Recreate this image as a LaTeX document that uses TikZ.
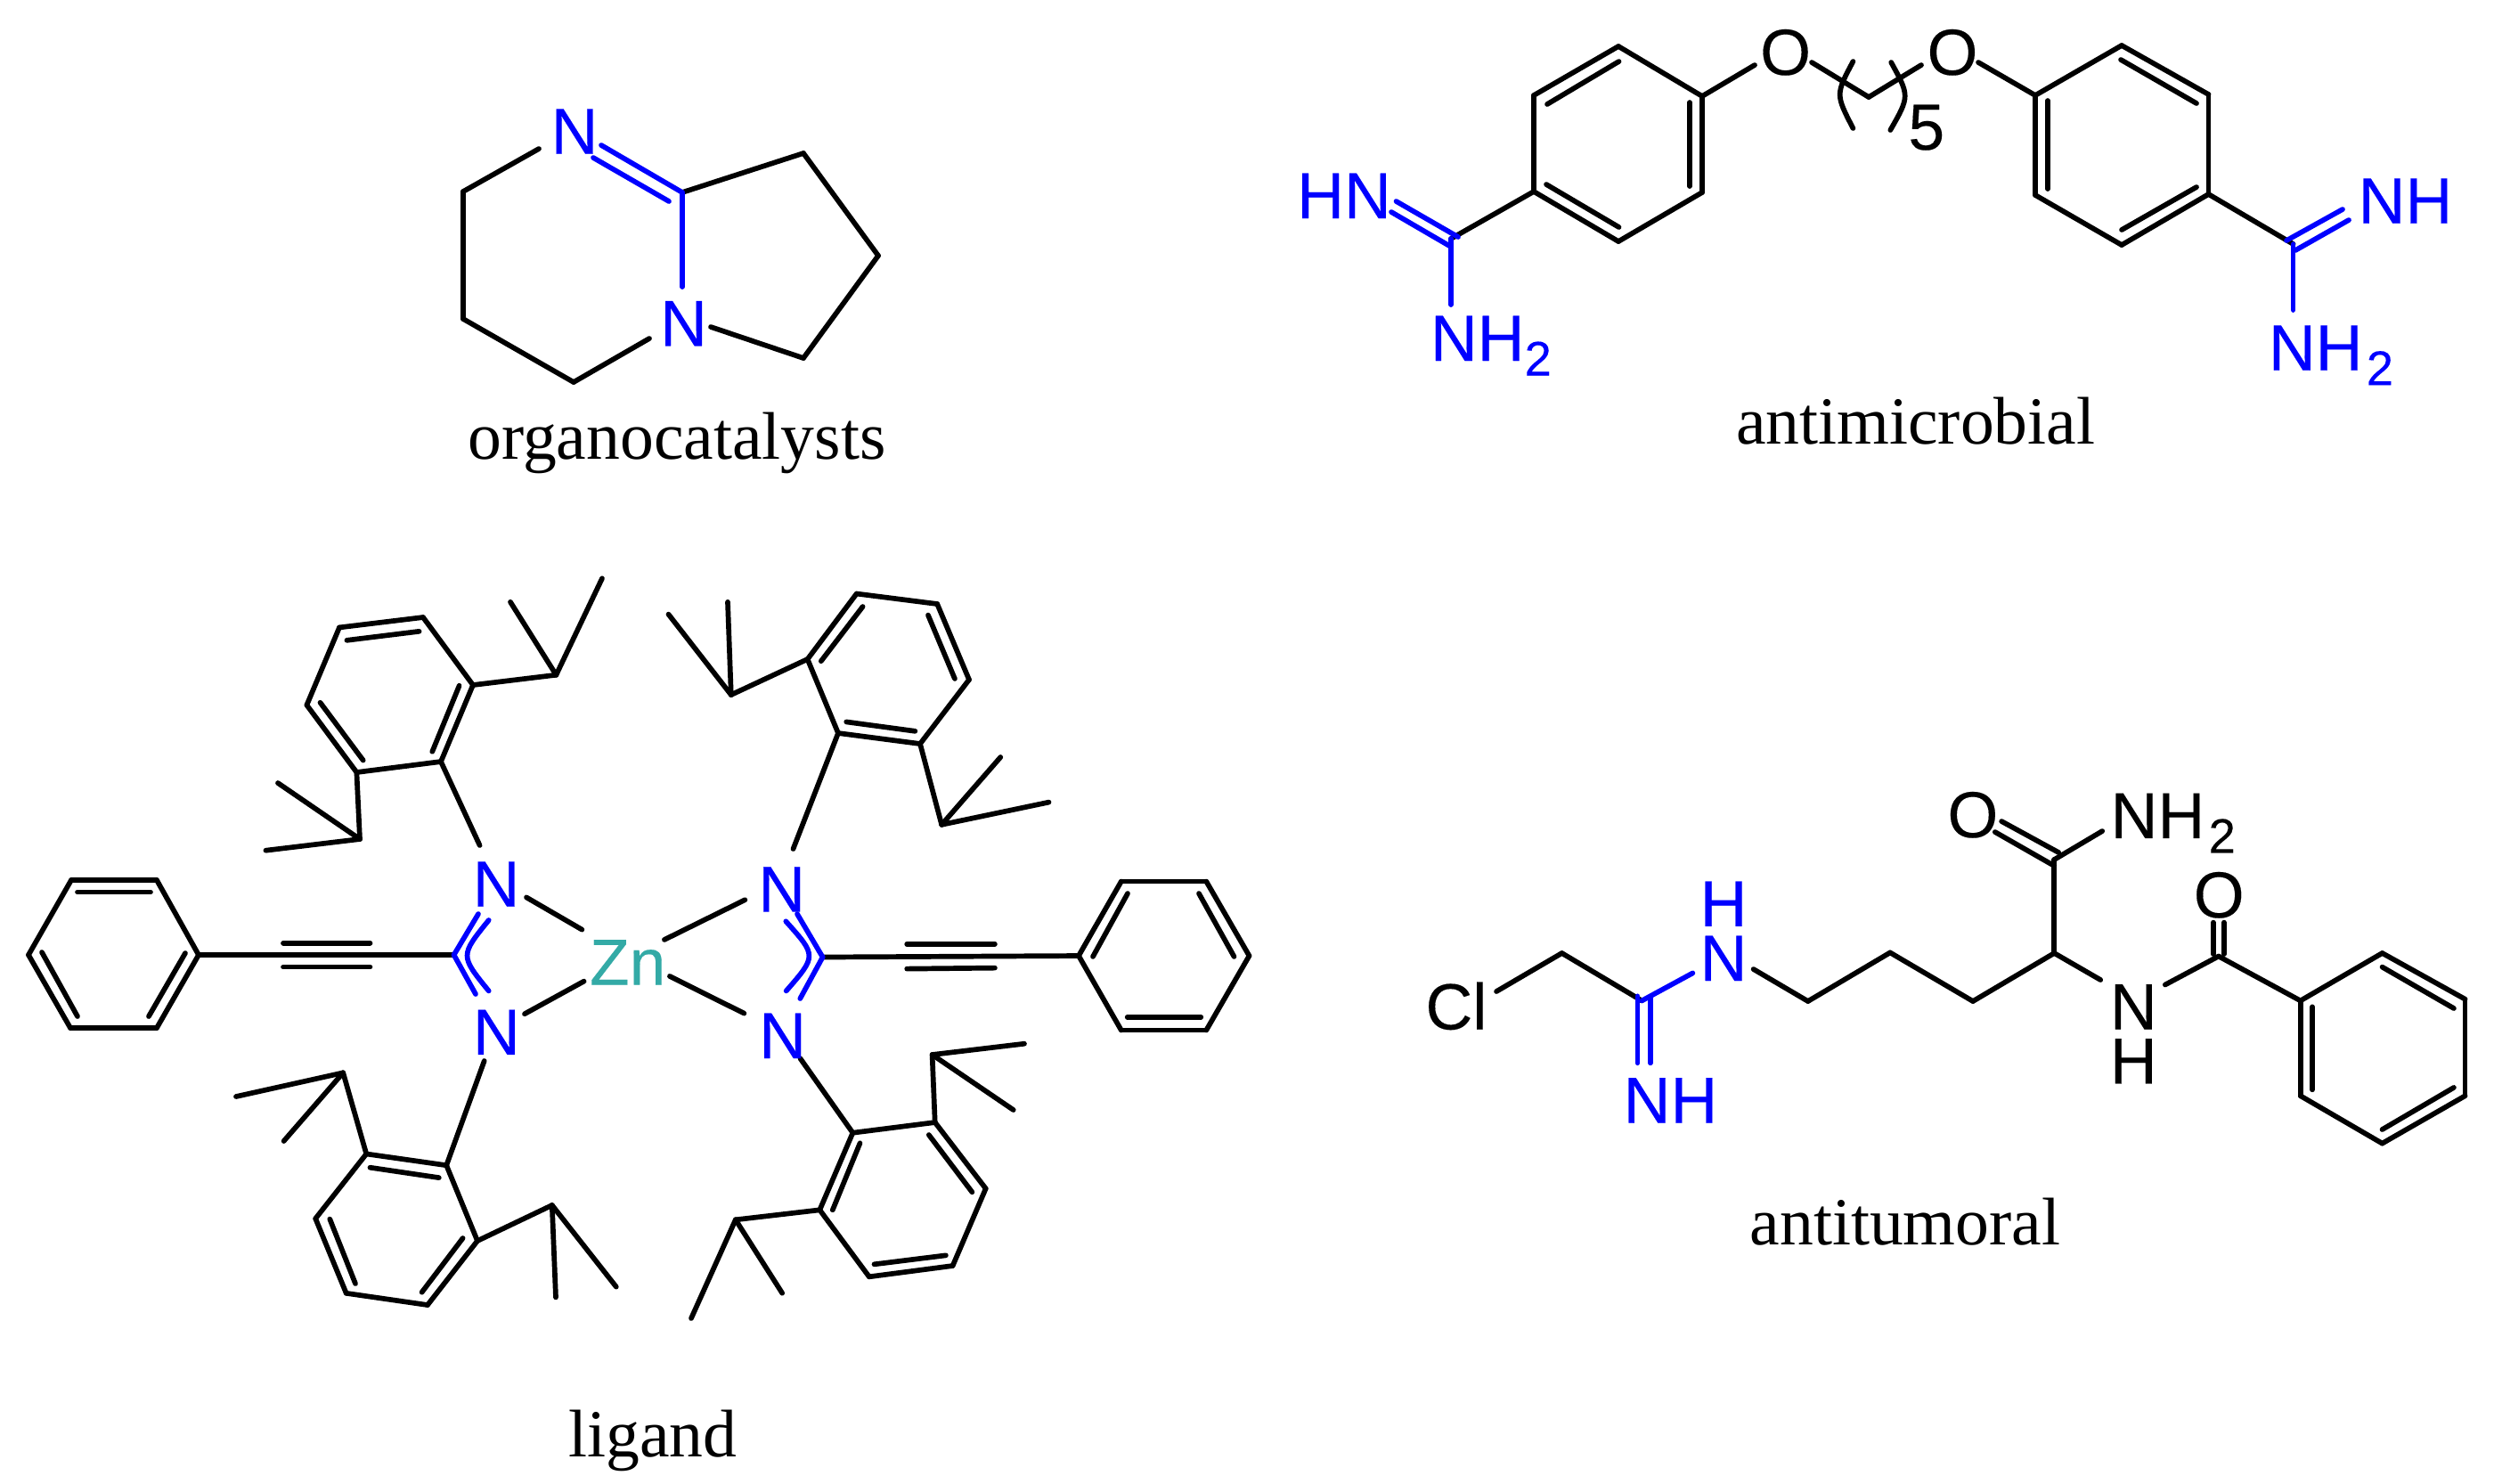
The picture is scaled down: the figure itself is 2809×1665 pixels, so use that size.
\documentclass[tikz,border=0pt]{standalone}
\usepackage{fontspec}
\setmainfont{Liberation Serif}
\newfontfamily\atomfont[FakeBold=0.2]{Liberation Sans}
\definecolor{atomblue}{HTML}{0000FF}
\definecolor{zinc}{HTML}{33AAA6}
\newcommand{\subtwo}{\raisebox{-4.7pt}{\fontsize{15.5}{15.5}\selectfont 2}}
\newcommand{\pts}[1]{\foreach \n/\x/\y in {#1} \coordinate (\n) at (\x,\y);}
\newcommand{\bonds}[2][bond]{\foreach \a/\b in {#2} \draw[#1] (\a)--(\b);}
\tikzset{
  bond/.style={line width=0.057cm,line cap=round,line join=round,black},
  bbond/.style={bond,atomblue},
  atom/.style={font=\atomfont\fontsize{20.8}{20.8}\selectfont,inner sep=0pt,anchor=base},
  atomw/.style={atom,anchor=base west},
  bluetext/.style={text=atomblue},
  caption/.style={font=\fontsize{21.5}{21.5}\selectfont,inner sep=0pt,anchor=base}
}
\begin{document}
\begin{tikzpicture}[x=0.01cm,y=-0.01cm]
\useasboundingbox (0,0) rectangle (2809,1665);
\fill[white] (0,0) rectangle (2809,1665);
% ---------- organocatalyst
\pts{o1/605/167,o2/520/215,o3/520/358,o4/644/429,o5/729/380,oc/766/216,oe/766/322,
  od1/675/163,od2/666/177,od3/751/226,o6/902/172,o7/986/287,o8/902/402,o9/798/367}
\bonds{o1/o2,o2/o3,o3/o4,o4/o5,oc/o6,o6/o7,o7/o8,o8/o9}
\bonds[bbond]{oc/oe,od1/oc,od2/od3}
\node[atom,bluetext] (oN1) at (645,172.7) {N};
\node[atom,bluetext] (oN2) at (767.5,388.3) {N};
\node[caption] (capO) at (760,515) {organocatalysts};
% ---------- antimicrobial
\pts{ma/1817/52,mb/1911/108,mc/1911/216,md/1817/271,me/1722/215,mf/1722/107,
  mi1/1737/117,mi2/1817.5/69,mi3/1897/115,mi4/1897/209,mi5/1736/207,mi6/1817.5/255,
  mo1/1970/73,mo2/2034/70,mv/2098/109,mo3/2157/73,mo4/2221/70,
  na/2285/107,nb/2382/51,nc/2479.5/106,nd/2479.5/218,ne/2382/275,nf/2285/219,
  ni1/2299/113,ni2/2299/212,ni3/2381/67,ni4/2466/116,ni5/2382/258,ni6/2466/210,
  rc/2574.6/274,rd1/2567/270,rd2/2630/235,rd3/2577/281,rd4/2637/247,rs/2574.6/348,
  lc/1629/268,ld1/1567.5/226,ld2/1637/266,ld3/1562/238,ld4/1629/277,ls/1629/342,
  pl1/2080.4/69,plc/2060.8/106,pl2/2080.4/144,pr1/2123.2/70,prc/2144/108,pr2/2122.3/146}
\bonds{ma/mb,mb/mc,mc/md,md/me,me/mf,mf/ma,mi1/mi2,mi3/mi4,mi5/mi6,mb/mo1,mo2/mv,mv/mo3,mo4/na,
  na/nb,nb/nc,nc/nd,nd/ne,ne/nf,nf/na,ni1/ni2,ni3/ni4,ni5/ni6,nd/rc,me/lc}
\bonds[bbond]{rd1/rd2,rd3/rd4,rc/rs,ld1/ld2,ld3/ld4,lc/ls}
\draw[bond] (pl1) .. controls (plc) .. (pl2);
\draw[bond] (pr1) .. controls (prc) .. (pr2);
\node[atom] (mO1) at (2004.6,84) {O};
\node[atom] (mO2) at (2192,84) {O};
\node[atom] (m5) at (2162.8,168) {5};
\node[atomw,bluetext] (mHN) at (1455.5,245) {HN};
\node[atomw,bluetext] (mNH2a) at (1605.2,405) {NH\subtwo};
\node[atomw,bluetext] (mNH) at (2647,250.7) {NH};
\node[atomw,bluetext] (mNH2b) at (2546.2,415.7) {NH\kern1.2pt\subtwo};
\node[caption] (capM) at (2150.7,498) {antimicrobial};
% ---------- ligand: left phenyl and alkyne
\pts{pa/80/988,pb/176/988,pc/223/1072,pd/176/1154,pe/79/1154,pf/32/1072,
  pi1/87/1001.5,pi2/169/1001.5,pi3/47/1069,pi4/87/1141,pi5/208/1070,pi6/167/1141,
  ya/318/1058.7,yb/415.5/1058.7,yc/318/1085.6,yd/415.5/1085.6,lC/509.6/1072,
  lu/537/1026,ld/534/1116,la1/548.7/1033,lac/516.5/1072.8,la2/548.7/1112.4,
  zl1/591/1007.4,zl2/653.4/1043.6,zl3/589/1138.2,zl4/655.6/1101.6}
\bonds{pa/pb,pb/pc,pc/pd,pd/pe,pe/pf,pf/pa,pi1/pi2,pi3/pi4,pi5/pi6,pc/lC,ya/yb,yc/yd,zl1/zl2,zl3/zl4}
\bonds[bbond]{lC/lu,lC/ld}
\draw[bbond] (la1) .. controls (lac) .. (la2);
% top-left aryl
\pts{ta/475/693,tb/381/704.4,tc/344.4/791.5,td/400.4/867,te/495/855,tf/531/769,
  ti1/389.4/718.8,ti2/470.6/708.8,ti3/359.5/788.7,ti4/407.7/853.5,ti5/485.3/843.8,ti6/515.6/769.8,
  tp1/624.4/757.7,tp2/573/675.8,tp3/676/649.3,tq1/404/942,tq2/312/879,tq3/298.4/954.7,tN/538.6/949}
\bonds{ta/tb,tb/tc,tc/td,td/te,te/tf,tf/ta,ti1/ti2,ti3/ti4,ti5/ti6,tf/tp1,tp1/tp2,tp1/tp3,td/tq1,tq1/tq2,tq1/tq3,te/tN}
% top-right aryl
\pts{ua/961.7/666.5,ub/1052.2/678,uc/1088/763,ud/1033/835,ue/941/823,uf/906.6/740,
  ui1/921.8/742.2,ui2/968.6/681,ui3/1042/690.6,ui4/1071.9/761.9,ui5/950.2/810.4,ui6/1027.4/820.8,
  up1/820.8/780,up2/750.5/689.6,up3/817/675.8,uq1/1057.2/925.8,uq2/1123.3/850,uq3/1177.5/900.6,uN/890.5/953}
\bonds{ua/ub,ub/uc,uc/ud,ud/ue,ue/uf,uf/ua,ui1/ui2,ui3/ui4,ui5/ui6,uf/up1,up1/up2,up1/up3,ud/uq1,uq1/uq2,uq1/uq3,ue/uN}
% right phenyl and alkyne
\pts{qa/1211/1073,qb/1258.8/989.5,qc/1354.3/989.5,qd/1402.5/1073,qe/1354.3/1156.5,qf/1258.8/1156.5,
  qi1/1227/1073.9,qi2/1266/1003,qi3/1346/1003,qi4/1385.5/1073.9,qi5/1265.7/1141.7,qi6/1348.3/1141.7,
  ra/1018.2/1059.7,rb/1116.9/1059.7,rx/1018.2/1087.6,ry/1116.9/1086.6,rC/923.6/1074.5,
  ru/895/1026,rl/898.3/1121,ra1/882.3/1034.3,rac/917/1073,ra2/882.7/1112.4,
  zr1/745.9/1054.9,zr2/836.4/1010.2,zr3/751.9/1095.9,zr4/835.4/1137.6}
\bonds{qa/qb,qb/qc,qc/qd,qd/qe,qe/qf,qf/qa,qi1/qi2,qi3/qi4,qi5/qi6,rC/qa,ra/rb,rx/ry,zr1/zr2,zr3/zr4}
\bonds[bbond]{rC/ru,rC/rl}
\draw[bbond] (ra1) .. controls (rac) .. (ra2);
% bottom-left aryl
\pts{va/480/1465,vb/388.7/1451.8,vc/354.2/1368,vd/411.3/1295.4,ve/501.2/1308.2,vf/536/1393,
  vi1/415.5/1310.7,vi2/492.8/1322.1,vi3/370.3/1368.6,vi4/399/1441,vi5/473.6/1450.7,vi6/519.6/1390,
  vp1/385.2/1204.3,vp2/265/1231,vp3/318.6/1281,vq1/619.8/1353,vq2/624/1456.4,vq3/691.8/1444.6,vN/543.7/1191}
\bonds{va/vb,vb/vc,vc/vd,vd/ve,ve/vf,vf/va,vi1/vi2,vi3/vi4,vi5/vi6,vd/vp1,vp1/vp2,vp1/vp3,vf/vq1,vq1/vq2,vq1/vq3,ve/vN}
% bottom-right aryl
\pts{wa/975.8/1433.3,wb/1069.6/1421,wc/1106.7/1334.3,wd/1049.7/1260,we/957.4/1271.7,wf/920.3/1358.3,
  wi1/965.5/1283.3,wi2/934.8/1358.3,wi3/1042.8/1274,wi4/1091.4/1338.3,wi5/1061.9/1409.3,wi6/981.5/1419.3,
  wp1/1046.6/1184,wp2/1150/1171.7,wp3/1137.7/1246,wq1/825.8/1369.3,wq2/776/1480,wq3/878.2/1451.7,wN/898.5/1188.3}
\bonds{wa/wb,wb/wc,wc/wd,wd/we,we/wf,wf/wa,wi1/wi2,wi3/wi4,wi5/wi6,wd/wp1,wp1/wp2,wp1/wp3,wf/wq1,wq1/wq2,wq1/wq3,we/wN}
\node[atom,bluetext] (lN1) at (557,1017.7) {N};
\node[atom,bluetext] (lN2) at (557.3,1183.9) {N};
\node[atom,bluetext] (rN1) at (877.7,1023.6) {N};
\node[atom,bluetext] (rN2) at (878.6,1188) {N};
\node[atom,text=zinc] (Zn) at (704.7,1105.5) {Zn};
\node[caption] (capL) at (733,1635.7) {ligand};
% ---------- antitumoral
\pts{aa/1680/1113,ab/1753.5/1070,ac/1843.3/1123.4,ad/1900.4/1092.4,ae/1838.4/1118.3,af/1838.4/1193.3,
  ag/1852.7/1120,ah/1852.7/1193.3,ai/1968.6/1088,aj/2029.8/1124,ak/2122/1069.4,al/2215/1124,am/2306.3/1070,
  an/2306.3/965,ao/2358.2/1100,ap/2360.2/933,aq/2247.1/922,ar/2311.2/957,as/2239.8/934,at/2306.3/972,
  au/2484.7/1035.6,av/2484.7/1071,aw/2496.9/1035.6,ax/2496.9/1071,ay/2490.8/1073.5,az/2430.8/1105.5,
  ba/2582.7/1123.4,bb/2674.5/1070,bc/2767.6/1121.7,bd/2767.6/1230.2,be/2674.5/1283.6,bf/2582.7/1230.2,
  bi1/2674.5/1085.6,bi2/2754.9/1132,bi3/2596.1/1130.3,bi4/2596.1/1223.3,bi5/2674.5/1268,bi6/2754.9/1220.9}
\bonds{aa/ab,ab/ac,ai/aj,aj/ak,ak/al,al/am,am/an,am/ao,an/ap,aq/ar,as/at,au/av,aw/ax,ay/az,ay/ba,
  ba/bb,bb/bc,bc/bd,bd/be,be/bf,bf/ba,bi1/bi2,bi3/bi4,bi5/bi6}
\bonds[bbond]{ac/ad,ae/af,ag/ah}
\node[atom] (aCl) at (1635,1155.5) {Cl};
\node[atom,bluetext] (aH) at (1935.1,1039.8) {H};
\node[atom,bluetext] (aN) at (1935.1,1101) {N};
\node[atomw,bluetext] (aNH) at (1822,1260.5) {NH};
\node[atom] (aO1) at (2214.9,940) {O};
\node[atomw] (aNH2) at (2369,940.9) {NH\kern1.2pt\subtwo};
\node[atom] (aO2) at (2491.2,1030) {O};
\node[atom] (aN2) at (2395.3,1155.5) {N};
\node[atom] (aH2) at (2395.3,1216.4) {H};
\node[caption] (capA) at (2139,1397) {antitumoral};
\end{tikzpicture}
\end{document}
